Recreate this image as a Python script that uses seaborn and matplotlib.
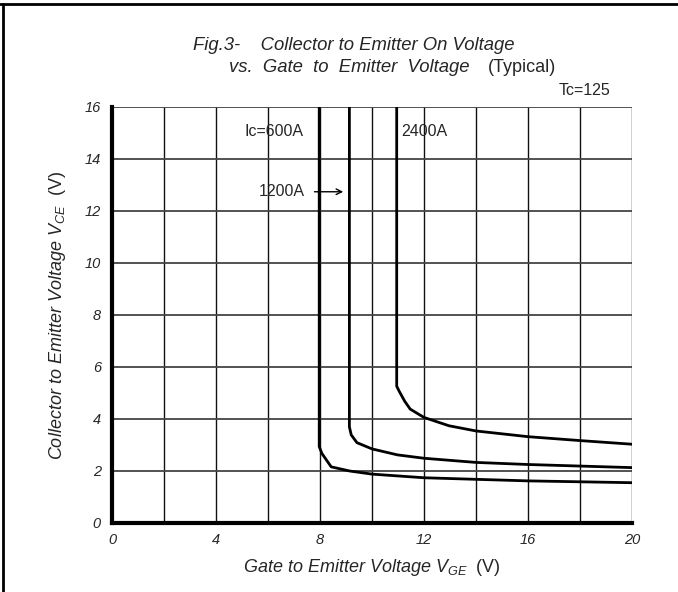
import matplotlib
matplotlib.use("Agg")
import matplotlib.pyplot as plt
import matplotlib.lines as mlines
import pandas as pd
import seaborn as sns

# ---- data ----
vge_600 = [7.97, 7.97, 8.07, 8.43, 9.14, 10.0, 12.0, 16.0, 20.0]
vce_600 = [16.5, 2.94, 2.68, 2.16, 2.00, 1.88, 1.74, 1.62, 1.55]

vge_1200 = [9.13, 9.13, 9.2, 9.42, 10.0, 10.98, 12.0, 14.0, 16.0, 20.0]
vce_1200 = [16.5, 3.70, 3.39, 3.09, 2.85, 2.62, 2.49, 2.33, 2.25, 2.13]

vge_2400 = [10.95, 10.95, 11.05, 11.26, 11.47, 12.0, 12.96, 14.0, 16.0, 18.0, 20.0]
vce_2400 = [16.5, 5.26, 5.06, 4.68, 4.38, 4.06, 3.74, 3.54, 3.32, 3.17, 3.03]

series_names = ["600A", "1200A", "2400A"]
x_ticks = [0, 4, 8, 12, 16, 20]
y_ticks = [0, 2, 4, 6, 8, 10, 12, 14, 16]

frames = []
for name, xs, ys in zip(series_names,
                        [vge_600, vge_1200, vge_2400],
                        [vce_600, vce_1200, vce_2400]):
    frames.append(pd.DataFrame({"VGE": xs, "VCE": ys, "Ic": name}))
df = pd.concat(frames, ignore_index=True)

# ---- style ----
sns.set_style("white")
plt.rcParams["font.family"] = ["Liberation Sans", "DejaVu Sans"]
plt.rcParams["mathtext.fontset"] = "custom"
plt.rcParams["mathtext.it"] = "Liberation Sans:italic"
plt.rcParams["mathtext.rm"] = "Liberation Sans"
plt.rcParams["mathtext.bf"] = "Liberation Sans:bold"

W, H = 678, 592
fig = plt.figure(figsize=(W / 100, H / 100), dpi=100)
ax = fig.add_axes([112 / W, 1 - 523 / H, (632 - 112) / W, (523 - 107) / H])

sns.lineplot(data=df, x="VGE", y="VCE", hue="Ic", sort=False, estimator=None,
             palette=["black"] * 3, linewidth=2.0, legend=False, ax=ax)

ax.set_xlim(0, 20)
ax.set_ylim(0, 16)

# ticks / grid
ax.set_xticks(x_ticks)
ax.set_xticks([2, 6, 10, 14, 18], minor=True)
ax.set_yticks(y_ticks)
ax.set_yticks(list(range(1, 16, 2)), minor=True)
for v in range(0, 21, 2):
    ax.axvline(v, color="#111111", lw=1.0, zorder=1)
for v in range(0, 17, 2):
    ax.axhline(v, color="#444444", lw=1.3, zorder=1)

for s in ["top", "right"]:
    ax.spines[s].set_visible(False)
for s in ["left", "bottom"]:
    ax.spines[s].set_linewidth(3.0)
    ax.spines[s].set_color("black")
    ax.spines[s].set_zorder(5)

ax.tick_params(axis="x", which="both", direction="in", length=4, width=2.5,
               pad=7, labelsize=10.5, color="black")
ax.tick_params(axis="y", which="major", direction="in", length=7, width=2.5,
               pad=8, labelsize=10.5, color="black")
ax.tick_params(axis="y", which="minor", direction="in", length=3.5, width=2.5,
               color="black")
ax.set_xticklabels([str(t) for t in x_ticks])
ax.set_yticklabels([str(t) for t in y_ticks])
for lab in ax.get_xticklabels() + ax.get_yticklabels():
    lab.set_fontstyle("italic")

ax.set_xlabel("Gate to Emitter Voltage V" + r"$_{\mathit{GE}}\ \ \mathrm{(V)}$",
              fontsize=13, fontstyle="italic")
ax.set_ylabel("Collector to Emitter Voltage V" + r"$_{\mathit{CE}}\ \ \mathrm{(V)}$",
              fontsize=13, fontstyle="italic")
ax.xaxis.set_label_coords(0.5, (523 - 567) / 416)
ax.yaxis.set_label_coords((58 - 112) / 520, 0.5)
ax.xaxis.label.set_va("center")
ax.yaxis.label.set_va("center")

# title
fig.text(193 / W, 1 - 45 / H, "Fig.3-    Collector to Emitter On Voltage",
         fontsize=13.3, style="italic", va="center", ha="left")
fig.text(229 / W, 1 - 68 / H, "vs.  Gate  to  Emitter  Voltage",
         fontsize=13.3, style="italic", va="center", ha="left")
fig.text(488 / W, 1 - 67 / H, "(Typical)",
         fontsize=13, va="center", ha="left")

# annotations
ax.text(610 / 26 - 112 / 26, 16.65, "Tc=125", fontsize=11.5, ha="right",
        va="center", clip_on=False)
ax.text(5.1, 15.05, "Ic=600A", fontsize=11.5, ha="left", va="center")
ax.text(11.14, 15.05, "2400A", fontsize=11.5, ha="left", va="center")
ax.text(5.63, 12.74, "1200A", fontsize=11.5, ha="left", va="center")
ax.annotate("", xy=(9.0, 12.74), xytext=(7.68, 12.74),
            arrowprops=dict(arrowstyle="->", color="black", lw=1.0))

# page border (top and left)
fig.add_artist(mlines.Line2D([0, 1], [1 - 4 / H, 1 - 4 / H], color="black", lw=2.0,
                             transform=fig.transFigure))
fig.add_artist(mlines.Line2D([3 / W, 3 / W], [0, 1 - 4 / H], color="black", lw=2.0,
                             transform=fig.transFigure))

fig.savefig("out.png", dpi=100)
